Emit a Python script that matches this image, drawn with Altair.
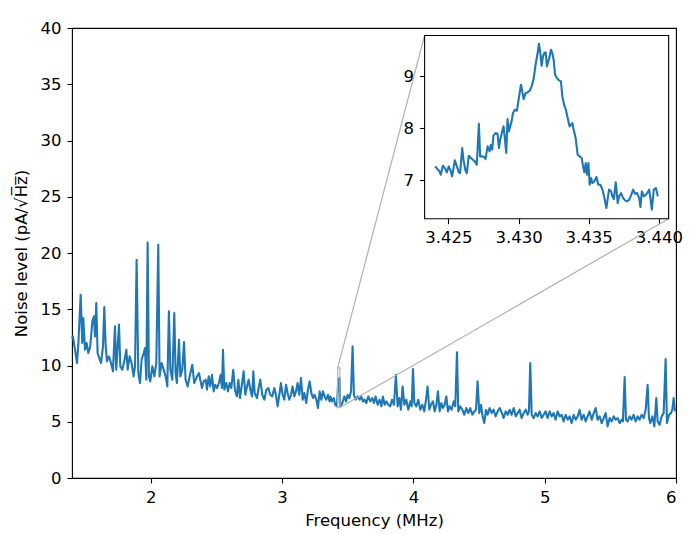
import altair as alt
import pandas as pd

# ---------------- data ----------------
FREQ_MHZ = [
    1.400, 1.407, 1.423, 1.438, 1.448, 1.466, 1.478, 1.486, 1.499, 1.511, 1.524, 1.539, 1.555, 1.567, 1.575,
    1.585, 1.595, 1.608, 1.621, 1.636, 1.646, 1.656, 1.666, 1.682, 1.697, 1.712, 1.727, 1.737, 1.758, 1.768,
    1.783, 1.798, 1.814, 1.824, 1.839, 1.854, 1.869, 1.880, 1.892, 1.905, 1.918, 1.930, 1.946, 1.956, 1.966,
    1.976, 1.986, 1.996, 2.012, 2.027, 2.042, 2.057, 2.067, 2.083, 2.098, 2.113, 2.126, 2.138, 2.149, 2.164,
    2.179, 2.189, 2.199, 2.215, 2.225, 2.240, 2.253, 2.265, 2.281, 2.296, 2.316, 2.331, 2.352, 2.367,
    2.377, 2.390, 2.403, 2.418, 2.428, 2.441, 2.453, 2.466, 2.479, 2.491, 2.504, 2.519, 2.532, 2.542, 2.550,
    2.560, 2.575, 2.588, 2.601, 2.613, 2.628, 2.641, 2.656, 2.667, 2.679, 2.692, 2.707, 2.720, 2.733, 2.745,
    2.758, 2.771, 2.781, 2.791, 2.809, 2.821, 2.834, 2.849, 2.865, 2.880, 2.895, 2.910, 2.925, 2.941, 2.953,
    2.966, 2.979, 2.991, 3.004, 3.017, 3.030, 3.042, 3.055, 3.068, 3.080, 3.093, 3.106, 3.118, 3.131, 3.144,
    3.157, 3.169, 3.184, 3.197, 3.210, 3.223, 3.235, 3.248, 3.261, 3.273, 3.286, 3.299, 3.311, 3.324, 3.337,
    3.349, 3.362,
    3.367, 3.380, 3.393, 3.405, 3.418, 3.428, 3.438, 3.443, 3.459, 3.474, 3.487, 3.499, 3.512, 3.525, 3.537,
    3.547, 3.560, 3.575, 3.591, 3.603, 3.616, 3.629, 3.641, 3.657, 3.672, 3.687, 3.700, 3.712, 3.728, 3.743,
    3.756, 3.768, 3.781, 3.794, 3.809, 3.824, 3.837, 3.852, 3.867, 3.880, 3.893, 3.905, 3.918, 3.931, 3.946,
    3.961, 3.977, 3.987, 3.997, 4.007, 4.022, 4.037, 4.053, 4.068, 4.083, 4.096, 4.108, 4.121, 4.134, 4.149,
    4.162, 4.175, 4.187, 4.200, 4.213, 4.225, 4.238, 4.251, 4.263, 4.276, 4.291, 4.307, 4.319, 4.332, 4.342,
    4.357, 4.373, 4.388, 4.403, 4.418, 4.433, 4.449, 4.464, 4.477, 4.489, 4.502, 4.515, 4.527, 4.540, 4.553,
    4.565, 4.581, 4.596, 4.611, 4.626, 4.642, 4.657,
    4.675, 4.687, 4.703, 4.718, 4.733, 4.748, 4.764, 4.779, 4.794, 4.809, 4.824, 4.840, 4.855, 4.870, 4.880,
    4.890, 4.901, 4.916, 4.931, 4.946, 4.962, 4.977, 4.992, 5.007, 5.022, 5.038, 5.053, 5.068, 5.083, 5.099,
    5.114, 5.129, 5.144, 5.160, 5.175, 5.190, 5.205, 5.221, 5.236, 5.251, 5.266, 5.281, 5.297, 5.312, 5.327,
    5.342, 5.358, 5.373, 5.388, 5.403, 5.419, 5.434, 5.449, 5.464, 5.479, 5.495, 5.510, 5.525, 5.540, 5.556,
    5.571, 5.586, 5.596, 5.609, 5.619, 5.632, 5.647, 5.662, 5.677, 5.693, 5.708, 5.723, 5.738, 5.754, 5.769,
    5.784, 5.794, 5.804, 5.820, 5.835, 5.850, 5.860, 5.875, 5.891, 5.906, 5.921, 5.931, 5.947, 5.962, 5.972,
    5.982, 5.992,
]
NOISE = [
    12.4, 12.59, 11.40, 10.22, 11.85, 16.29, 12.00, 14.22, 11.40, 12.00, 11.11, 11.70, 13.92, 14.37, 12.59,
    15.55, 11.11, 10.66, 10.22, 11.70, 15.20, 11.85, 10.37, 10.81, 10.22, 9.48, 13.48, 9.63, 13.63, 9.92,
    9.63, 10.37, 11.40, 9.63, 10.81, 10.22, 9.03, 9.92, 19.40, 9.33, 8.44, 10.51, 11.11, 11.55, 8.74,
    20.94, 9.03, 8.59, 9.92, 9.03, 10.22, 20.74, 9.03, 10.22, 9.63, 9.03, 8.14, 14.81, 9.63, 8.74,
    14.66, 9.33, 8.44, 12.29, 9.03, 9.63, 12.08, 8.74, 8.14, 9.03, 10.07, 8.44, 9.03, 9.33,
    8.74, 8.00, 8.59, 8.74, 7.85, 9.03, 8.14, 9.18, 7.70, 8.29, 8.00, 8.44, 9.18, 8.00, 11.40,
    7.85, 8.44, 7.70, 8.44, 8.00, 9.62, 7.85, 7.25, 8.74, 7.11, 8.14, 9.48, 7.40, 8.14, 8.74,
    7.85, 7.25, 9.48, 7.55, 7.11, 8.00, 8.74, 7.40, 6.96, 7.85, 8.00, 7.40, 7.25, 8.00, 7.40,
    6.37, 7.40, 8.44, 7.40, 6.96, 8.29, 7.55, 6.96, 7.40, 8.14, 7.25, 7.70, 8.44, 7.40, 8.88,
    6.96, 7.55, 6.66, 7.85, 8.59, 7.55, 7.11, 7.40, 6.96, 6.22, 7.70, 6.96, 7.70, 7.25, 6.96,
    7.40, 6.81,
    7.25, 6.81, 7.11, 6.51, 6.37, 8.74, 8.88, 6.37, 6.66, 7.25, 6.81, 7.40, 7.11, 7.70, 11.70,
    7.40, 6.96, 7.25, 6.96, 7.25, 6.81, 6.96, 6.66, 7.25, 6.81, 7.11, 6.66, 7.25, 6.51, 6.96,
    6.37, 7.25, 6.51, 6.81, 6.51, 6.37, 6.96, 6.51, 9.18, 6.37, 7.11, 6.07, 8.14, 6.51, 6.96,
    6.07, 6.81, 6.37, 9.68, 6.66, 6.37, 6.96, 6.07, 6.51, 5.92, 6.96, 8.14, 6.07, 6.51, 6.81,
    5.92, 6.51, 7.70, 5.92, 6.66, 6.22, 6.51, 7.25, 5.92, 6.37, 6.07, 6.81, 6.37, 11.17, 5.92,
    6.37, 6.07, 5.62, 6.22, 5.77, 6.22, 5.62, 5.92, 6.07, 8.59, 5.77, 6.51, 5.48, 4.88, 6.07,
    5.62, 6.22, 5.77, 6.07, 5.48, 5.92, 6.22,
    5.77, 5.33, 5.92, 5.62, 6.07, 5.62, 6.22, 5.48, 5.77, 6.07, 5.33, 5.77, 6.07, 5.62, 5.92,
    10.22, 5.62, 5.33, 5.77, 5.48, 5.92, 5.33, 5.62, 5.92, 5.33, 5.92, 5.48, 5.77, 5.18, 5.92,
    5.48, 5.62, 5.03, 5.62, 5.18, 5.48, 4.88, 5.62, 5.18, 5.48, 6.07, 5.18, 5.62, 5.03, 5.48,
    5.92, 5.18, 5.77, 6.22, 5.18, 5.48, 4.88, 5.33, 5.77, 4.59, 5.33, 5.03, 5.48, 5.18, 5.33,
    4.88, 5.18, 5.03, 8.97, 5.18, 5.03, 5.48, 5.18, 5.62, 5.03, 5.48, 5.18, 5.62, 5.33, 6.07,
    8.29, 5.33, 4.88, 5.48, 4.59, 7.11, 5.03, 4.73, 5.48, 5.77, 10.57, 4.88, 5.62, 5.77, 6.07,
    7.11, 5.92,
]

INSET_FREQ = [
    3.42405, 3.42421, 3.42436, 3.42445, 3.42460, 3.42474, 3.42488, 3.42502, 3.42517, 3.42526, 3.42536,
    3.42545, 3.42560, 3.42574, 3.42583, 3.42598, 3.42607, 3.42621, 3.42631, 3.42645, 3.42660, 3.42674,
    3.42688, 3.42702, 3.42717, 3.42726, 3.42740, 3.42755, 3.42764, 3.42779, 3.42793, 3.42802, 3.42812,
    3.42821, 3.42836, 3.42850, 3.42860, 3.42869, 3.42883, 3.42893, 3.42902, 3.42912, 3.42921, 3.42931,
    3.42940, 3.42950, 3.42960, 3.42974, 3.42988, 3.43002, 3.43017, 3.43026, 3.43036, 3.43050, 3.43064,
    3.43079, 3.43093, 3.43107, 3.43121, 3.43136, 3.43145, 3.43155, 3.43164, 3.43174, 3.43183, 3.43193,
    3.43202, 3.43212, 3.43221, 3.43231, 3.43240, 3.43250, 3.43260, 3.43274, 3.43288, 3.43302, 3.43312,
    3.43326, 3.43336, 3.43350, 3.43364, 3.43374, 3.43383, 3.43393, 3.43407, 3.43421, 3.43436, 3.43450,
    3.43460, 3.43469, 3.43479, 3.43488, 3.43498, 3.43507, 3.43517, 3.43526, 3.43540, 3.43555, 3.43569,
    3.43583, 3.43598, 3.43612, 3.43626, 3.43636, 3.43645, 3.43660, 3.43669, 3.43679, 3.43693, 3.43707,
    3.43717, 3.43731, 3.43745, 3.43760, 3.43774, 3.43788, 3.43802, 3.43817, 3.43831, 3.43845, 3.43860,
    3.43869, 3.43879, 3.43893, 3.43907, 3.43917, 3.43931, 3.43940, 3.43950, 3.43964, 3.43979, 3.43993,
]
INSET_NOISE = [
    7.269, 7.218, 7.173, 7.109, 7.282, 7.237, 7.154, 7.269, 7.173, 7.077, 7.237,
    7.385, 7.269, 7.154, 7.141, 7.622, 7.397, 7.192, 7.141, 7.474, 7.429, 7.397,
    7.365, 7.301, 8.090, 7.462, 7.462, 7.449, 7.410, 7.654, 7.558, 7.686, 7.590,
    7.859, 7.910, 7.897, 7.622, 7.782, 7.942, 8.038, 7.814, 7.526, 8.179, 7.942,
    8.038, 8.135, 8.295, 8.359, 8.340, 8.583, 8.840, 8.712, 8.564, 8.679, 8.692,
    8.724, 8.808, 8.949, 9.224, 9.449, 9.628, 9.449, 9.205, 9.385, 9.449, 9.462,
    9.192, 9.288, 9.385, 9.513, 9.449, 9.321, 9.032, 8.968, 8.923, 8.904, 8.615,
    8.436, 8.372, 8.199, 8.038, 8.071, 8.103, 7.974, 7.814, 7.494, 7.462, 7.429,
    7.269, 7.154, 7.333, 7.109, 7.333, 6.917, 7.045, 6.949, 6.981, 7.064, 6.917,
    6.917, 6.821, 6.660, 6.468, 6.660, 6.821, 6.788, 6.692, 6.641, 6.962, 6.564,
    6.692, 6.756, 6.660, 6.615, 6.596, 6.628, 6.712, 6.821, 6.744, 6.756, 6.660,
    6.487, 6.788, 6.692, 6.724, 6.756, 6.821, 6.660, 6.436, 6.821, 6.853, 6.692,
]

X_DOMAIN = [1.4, 6.0]
Y_DOMAIN = [0, 40]
X_TICKS = [2, 3, 4, 5, 6]
Y_TICKS = [0, 5, 10, 15, 20, 25, 30, 35, 40]

ZOOM_X = [3.4233, 3.4407]      # inset x-limits (MHz)
ZOOM_Y = [6.263, 9.788]        # inset y-limits
INSET_X_TICKS = [3.425, 3.430, 3.435, 3.440]
INSET_Y_TICKS = [7, 8, 9]
INSET_BOX_X = [4.0855, 5.944]  # inset placement, in main-axis units
INSET_BOX_Y = [23.05, 39.34]

W, H = 604, 450
BLUE = "#1f77b4"
GREY = "#b0b0b0"
FONT_SIZE = 16.5


def px_x(v):
    return (v - X_DOMAIN[0]) / (X_DOMAIN[1] - X_DOMAIN[0]) * W


def px_y(v):
    return H - (v - Y_DOMAIN[0]) / (Y_DOMAIN[1] - Y_DOMAIN[0]) * H


main_df = pd.DataFrame({"f": FREQ_MHZ, "n": NOISE})
inset_df = pd.DataFrame({"f": INSET_FREQ, "n": INSET_NOISE})
zoom_df = pd.DataFrame({"f": [ZOOM_X[0]], "f2": [ZOOM_X[1]], "n": [ZOOM_Y[0]], "n2": [ZOOM_Y[1]]})
conn_df = pd.DataFrame({
    "f": [ZOOM_X[0], ZOOM_X[1]],
    "n": [ZOOM_Y[1], ZOOM_Y[0]],
    "f2": [INSET_BOX_X[0], INSET_BOX_X[1]],
    "n2": [INSET_BOX_Y[1], INSET_BOX_Y[0]],
})

# ---------------- main axes ----------------
mx = alt.X("f:Q", scale=alt.Scale(domain=X_DOMAIN, nice=False, zero=False),
           axis=alt.Axis(values=X_TICKS, format="d", title="Frequency (MHz)", titlePadding=7))
my = alt.Y("n:Q", scale=alt.Scale(domain=Y_DOMAIN, nice=False, zero=True),
           axis=alt.Axis(values=Y_TICKS, format="d", title="Noise level (pA/√H̅z̅)", titlePadding=11))

main_line = alt.Chart(main_df).mark_line(color=BLUE, strokeWidth=2.1, strokeJoin="round").encode(x=mx, y=my)
zoom_rect = alt.Chart(zoom_df).mark_rect(filled=False, stroke=GREY, strokeWidth=1.2).encode(
    x=mx, x2="f2:Q", y=my, y2="n2:Q")
connectors = alt.Chart(conn_df).mark_rule(color=GREY, strokeWidth=1.2).encode(
    x=mx, x2="f2:Q", y=my, y2="n2:Q")
main_layer = alt.layer(main_line, zoom_rect, connectors)

# ---------------- inset axes ----------------
ix_scale = alt.Scale(domain=ZOOM_X, range=[px_x(INSET_BOX_X[0]), px_x(INSET_BOX_X[1])], nice=False, zero=False)
iy_scale = alt.Scale(domain=ZOOM_Y, range=[px_y(INSET_BOX_Y[0]), px_y(INSET_BOX_Y[1])], nice=False, zero=False)
ix_axis = alt.Axis(values=INSET_X_TICKS, format=".3f", title=None, orient="bottom",
                   offset=px_y(INSET_BOX_Y[0]) - H)
iy_axis = alt.Axis(values=INSET_Y_TICKS, format="d", title=None, orient="left",
                   offset=-px_x(INSET_BOX_X[0]))
ix = alt.X("f:Q", scale=ix_scale, axis=ix_axis)
iy = alt.Y("n:Q", scale=iy_scale, axis=iy_axis)

inset_frame = alt.Chart(zoom_df).mark_rect(fill="white", stroke="black", strokeWidth=1.1).encode(
    x=ix, x2="f2:Q", y=iy, y2="n2:Q")
inset_line = alt.Chart(inset_df).mark_line(color=BLUE, strokeWidth=2.1, strokeJoin="round").encode(x=ix, y=iy)
inset_layer = alt.layer(inset_frame, inset_line)

chart = (
    alt.layer(main_layer, inset_layer)
    .resolve_scale(x="independent", y="independent")
    .properties(width=W, height=H, autosize=alt.AutoSizeParams(type="none"),
                padding={"left": 64, "top": 20, "right": 7, "bottom": 56})
    .configure_view(stroke="black", strokeWidth=1.1)
    .configure_axis(labelFont="DejaVu Sans", titleFont="DejaVu Sans", labelFontSize=FONT_SIZE,
                    titleFontSize=FONT_SIZE, titleFontWeight="normal", labelColor="black", titleColor="black",
                    tickColor="black", tickSize=5, tickWidth=1.1, grid=False, domain=False, labelPadding=6)
)

chart.save("out.html", embed_options={"renderer": "svg", "actions": False})
